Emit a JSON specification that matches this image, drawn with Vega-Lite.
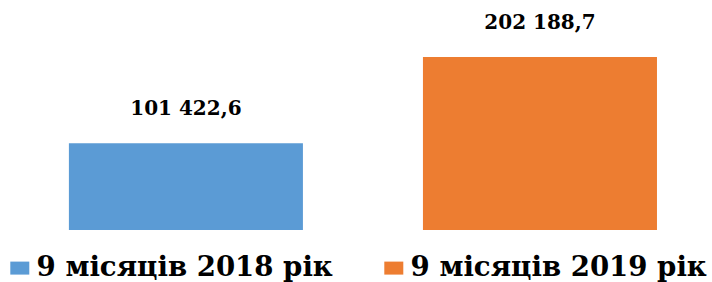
{
  "$schema": "https://vega.github.io/schema/vega-lite/v6.json",
  "width": 712,
  "height": 230,
  "autosize": {"type": "none"},
  "padding": {"left": 0, "top": 0, "right": 0, "bottom": 52},
  "background": "white",
  "data": {
    "values": [
      {"period": "9 місяців 2018 рік", "value": 101422.6, "label": "101 422,6"},
      {"period": "9 місяців 2019 рік", "value": 202188.7, "label": "202 188,7"}
    ]
  },
  "encoding": {
    "x": {
      "field": "period",
      "type": "nominal",
      "sort": null,
      "scale": {"paddingInner": 0.339, "paddingOuter": 0.175, "align": 0.556},
      "axis": null
    },
    "y": {
      "field": "value",
      "type": "quantitative",
      "scale": {"domain": [0, 268800], "nice": false},
      "axis": null
    }
  },
  "layer": [
    {
      "mark": {"type": "bar"},
      "encoding": {
        "color": {
          "field": "period",
          "type": "nominal",
          "sort": null,
          "scale": {"range": ["#5B9BD5", "#ED7D31"]},
          "legend": {
            "title": null,
            "orient": "none",
            "direction": "horizontal",
            "columns": 2,
            "legendX": 6,
            "legendY": 254,
            "padding": 0,
            "symbolType": "M-1,-0.684H1V0.684H-1Z",
            "symbolSize": 361,
            "symbolStrokeWidth": 0,
            "labelFont": "DejaVu Serif",
            "labelFontWeight": "bold",
            "labelFontSize": 27.6,
            "labelColor": "#000000",
            "labelOffset": 3,
            "labelLimit": 0,
            "columnPadding": 47
          }
        }
      }
    },
    {
      "mark": {
        "type": "text",
        "font": "DejaVu Serif",
        "fontWeight": "bold",
        "fontSize": 20,
        "baseline": "alphabetic",
        "dy": -28,
        "color": "#000000"
      },
      "encoding": {"text": {"field": "label"}}
    }
  ],
  "config": {"view": {"stroke": null}}
}
